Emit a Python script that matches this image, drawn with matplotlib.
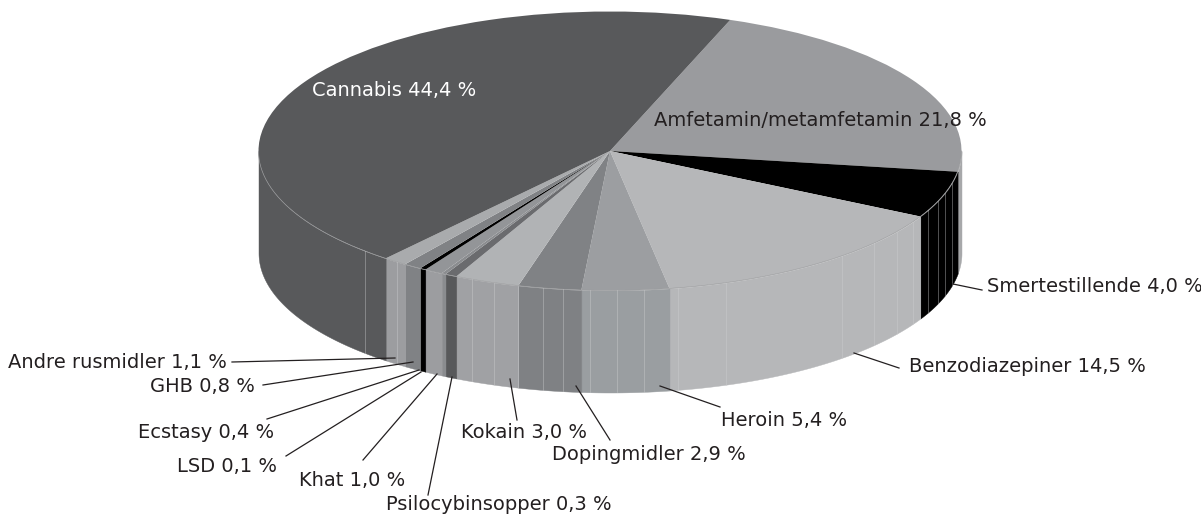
import numpy as np
import matplotlib
matplotlib.use("Agg")
import matplotlib.pyplot as plt

FIG_W = 1201
FIG_H = 515

# ellipse of the top face, in pixels
CX, CY = 610, 151
RX, RY = 351.5, 139.5
DEPTH = 102 / RY

# clockwise from the start angle. the shares are what is drawn in the picture,
# Smertestillende and Heroin are swapped compared to their printed labels
names = ["Amfetamin/metamfetamin", "Smertestillende", "Benzodiazepiner", "Heroin",
         "Dopingmidler", "Kokain", "Psilocybinsopper", "LSD", "Khat", "Ecstasy",
         "GHB", "Andre rusmidler", "Cannabis"]
shares = [21.8, 5.4, 14.5, 4.0, 2.9, 3.0, 0.55, 0.2, 0.85, 0.28, 0.83, 1.1, 44.5]
top_colors = ["#9a9b9e", "#000000", "#b6b7b9", "#9c9ea1", "#808285", "#b1b3b5", "#6a6b6e",
              "#8a8c8f", "#939598", "#000000", "#808285", "#a9abad", "#58595b"]
side_colors = ["#a7a8aa", "#000000", "#b6b7b9", "#9a9ea1", "#7f8184", "#a0a1a4", "#58595b",
               "#8a8c8f", "#9c9da0", "#000000", "#808285", "#9c9da0", "#58595b"]

labels = ["Cannabis 44,4 %", "Amfetamin/metamfetamin 21,8 %", "Smertestillende 4,0 %",
          "Benzodiazepiner 14,5 %", "Heroin 5,4 %", "Dopingmidler 2,9 %", "Kokain 3,0 %",
          "Psilocybinsopper 0,3 %", "Khat 1,0 %", "LSD 0,1 %", "Ecstasy 0,4 %",
          "GHB 0,8 %", "Andre rusmidler 1,1 %"]
label_x = [312, 654, 987, 909, 721, 552, 461, 386, 299, 177, 138, 150, 8]
label_y = [90, 121, 287, 367, 420, 454, 433, 505, 481, 467, 433, 387, 362]
label_colors = ["white"] + ["#231f20"] * 12

# leader lines, from the pie to the label
lead_x0 = [953, 854, 660, 576, 510, 452, 437, 421, 419, 413, 395]
lead_y0 = [284, 353, 386, 386, 379, 377, 374, 372, 370, 362, 358]
lead_x1 = [982, 899, 720, 610, 517, 428, 363, 286, 267, 263, 232]
lead_y1 = [290, 368, 407, 440, 420, 495, 460, 456, 419, 385, 362]

# seams on the side wall, pixel x
seam_x = [365, 397, 472, 494, 518, 543, 563, 590, 617, 644, 678, 726, 842, 874, 897, 913,
          928, 938, 945, 952]

fig = plt.figure(figsize=(FIG_W / 100, FIG_H / 100), dpi=100)

# axes whose -1..1 box is the bounding box of the ellipse
ax = fig.add_axes([(CX - RX) / FIG_W, 1 - (CY + RY) / FIG_H, 2 * RX / FIG_W, 2 * RY / FIG_H])
wedges, _ = ax.pie(shares, colors=top_colors, startangle=70, counterclock=False, radius=1,
                   wedgeprops={"linewidth": 0, "zorder": 5, "clip_on": False})
ax.set_aspect("auto")
ax.set_xlim(-1, 1)
ax.set_ylim(-1, 1)
ax.axis("off")

# side wall, only the part of each slice that faces the viewer
for w, col in zip(wedges, side_colors):
    for shift in [0, 360, 720]:
        lo = max(w.theta1 + shift, 180)
        hi = min(w.theta2 + shift, 360)
        if hi <= lo:
            continue
        t = np.radians(np.linspace(lo, hi, 60))
        ax.fill_between(np.cos(t), np.sin(t), np.sin(t) - DEPTH, color=col, linewidth=0.3,
                        zorder=2, clip_on=False)

t = np.radians(np.linspace(180, 360, 300))
ax.plot(np.cos(t), np.sin(t), color="#9a9b9d", lw=0.5, zorder=6, clip_on=False)

# overlay in pixels for text and lines
over = fig.add_axes([0, 0, 1, 1])
over.set_xlim(0, FIG_W)
over.set_ylim(FIG_H, 0)
over.axis("off")
over.patch.set_alpha(0)

for x in seam_x:
    sn = np.sqrt(1 - ((x - CX) / RX) ** 2)
    y0 = CY + RY * sn
    over.plot([x, x], [y0, y0 + 102], color="#cfd0d2", lw=0.5, alpha=0.55, zorder=3)

for a, b, c, d in zip(lead_x0, lead_y0, lead_x1, lead_y1):
    over.plot([a, c], [b, d], color="#231f20", lw=0.9, zorder=6)

for s, x, y, c in zip(labels, label_x, label_y, label_colors):
    over.text(x, y, s, color=c, fontsize=14, family="DejaVu Sans", ha="left", va="center", zorder=7)

fig.savefig("out.png", dpi=100, facecolor="white")
